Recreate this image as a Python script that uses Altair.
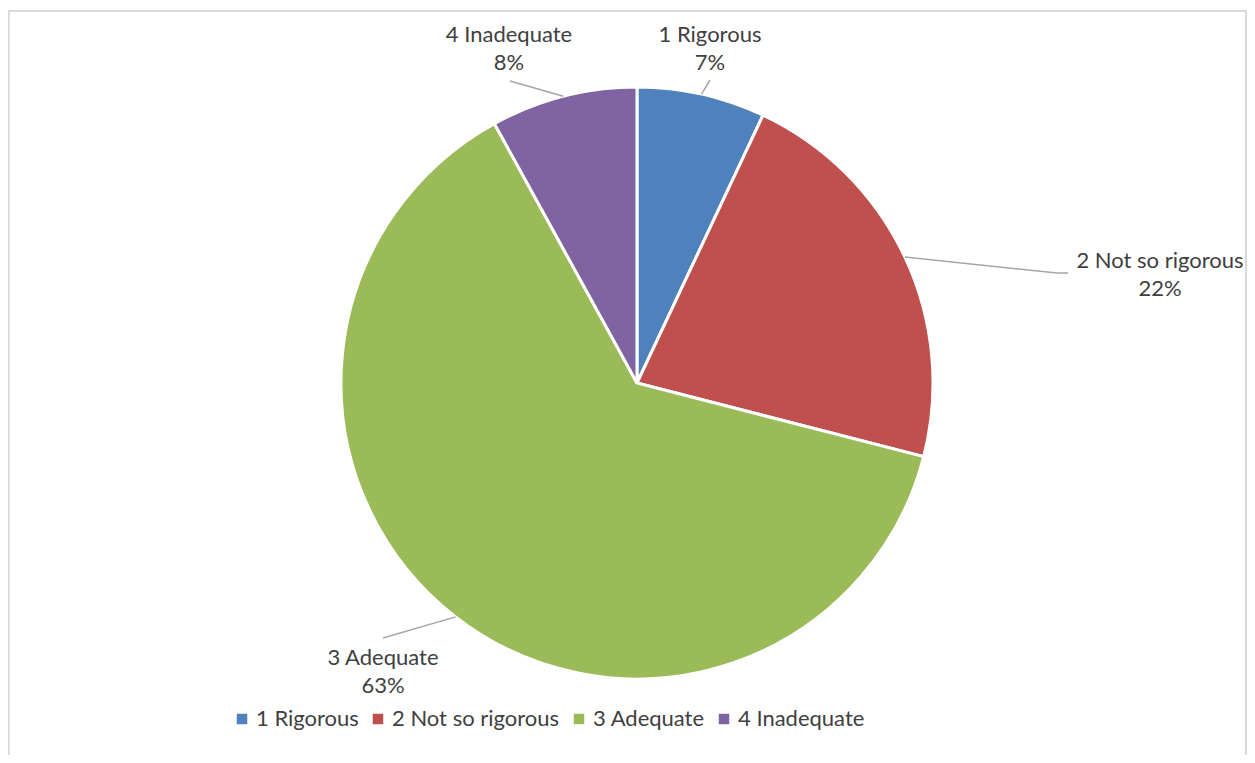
import altair as alt
import pandas as pd

# ---- data ----
categories = ["1 Rigorous", "2 Not so rigorous", "3 Adequate", "4 Inadequate"]
values = [7, 22, 63, 8]
colors = ["#4F81BD", "#C0504D", "#9BBB59", "#8064A2"]

# ---- layout (view coordinates) ----
CX, CY, R = 629, 373, 296
elbow_x = [702, 1049, 375, 502]
elbow_y = [70, 263, 628, 71]
end_x = [702, 1060, 375, 502]
end_y = [70, 263, 628, 71]
label_x = [702, 1152, 375, 501]
label_y = [25, 251, 648, 25]
pct_gap = 28
FONT = "Lato"
FSIZE = 22

total = sum(values)
df = pd.DataFrame({
    "category": categories,
    "value": values,
    "idx": list(range(len(categories))),
    "pct": [f"{round(v / total * 100)}%" for v in values],
    "ex": elbow_x, "ey": elbow_y,
    "fx": end_x, "fy": end_y,
    "lx": label_x, "ly": label_y,
    "py": [y + pct_gap for y in label_y],
})

base = alt.Chart(df)

pie = base.mark_arc(stroke="white", strokeWidth=3, outerRadius=R).encode(
    theta=alt.Theta("value:Q", stack=True),
    order=alt.Order("idx:Q", sort="ascending"),
    color=alt.Color(
        "category:N",
        scale=alt.Scale(domain=categories, range=colors),
        legend=alt.Legend(
            title=None, orient="none", legendX=223, legendY=698,
            direction="horizontal", columns=4, symbolType="square",
            symbolSize=110, symbolStrokeWidth=0, labelFontSize=FSIZE,
            labelFont=FONT, labelColor="#404040", labelOffset=3,
            columnPadding=8, labelLimit=300,
        ),
    ),
    x=alt.value(CX),
    y=alt.value(CY),
)

geo = base.transform_joinaggregate(
    total="sum(value)"
).transform_window(
    cum="sum(value)", sort=[alt.SortField("idx")], frame=[None, 0]
).transform_calculate(
    mid="2*PI*(datum.cum - datum.value/2)/datum.total",
).transform_calculate(
    x0=f"{CX} + {R}*sin(datum.mid)",
    y0=f"{CY} - {R}*cos(datum.mid)",
)

lead1 = geo.mark_rule(color="#A6A6A6", strokeWidth=1.5).encode(
    x=alt.X("x0:Q", scale=None), y=alt.Y("y0:Q", scale=None),
    x2="ex:Q", y2="ey:Q",
)
lead2 = base.mark_rule(color="#A6A6A6", strokeWidth=1.5).encode(
    x=alt.X("ex:Q", scale=None), y=alt.Y("ey:Q", scale=None),
    x2="fx:Q", y2="fy:Q",
)

lab = base.mark_text(font=FONT, fontSize=FSIZE, color="#404040",
                     align="center", baseline="middle").encode(
    x=alt.X("lx:Q", scale=None), y=alt.Y("ly:Q", scale=None), text="category:N",
)
pct = base.mark_text(font=FONT, fontSize=FSIZE, color="#404040",
                     align="center", baseline="middle").encode(
    x=alt.X("lx:Q", scale=None), y=alt.Y("py:Q", scale=None), text="pct:N",
)

# chart frame: left, top and right edges (bottom lies below the window)
frame_style = dict(color="#D9D9D9", strokeWidth=1.5)
frame_left = base.mark_rule(**frame_style).encode(
    x=alt.value(0.5), y=alt.value(0), y2=alt.value(745))
frame_top = base.mark_rule(**frame_style).encode(
    x=alt.value(0), x2=alt.value(1239), y=alt.value(0.75))
frame_right = base.mark_rule(**frame_style).encode(
    x=alt.value(1238), y=alt.value(0), y2=alt.value(745))

chart = alt.layer(frame_left, frame_top, frame_right, pie, lead1, lead2, lab, pct).properties(
    width=1239, height=745,
    padding={"left": 0, "top": 2, "right": 0, "bottom": 0},
    autosize=alt.AutoSizeParams(type="none"),
    background="white",
).configure_view(strokeWidth=0)

chart.save("out.html", embed_options={"renderer": "svg", "actions": False})
